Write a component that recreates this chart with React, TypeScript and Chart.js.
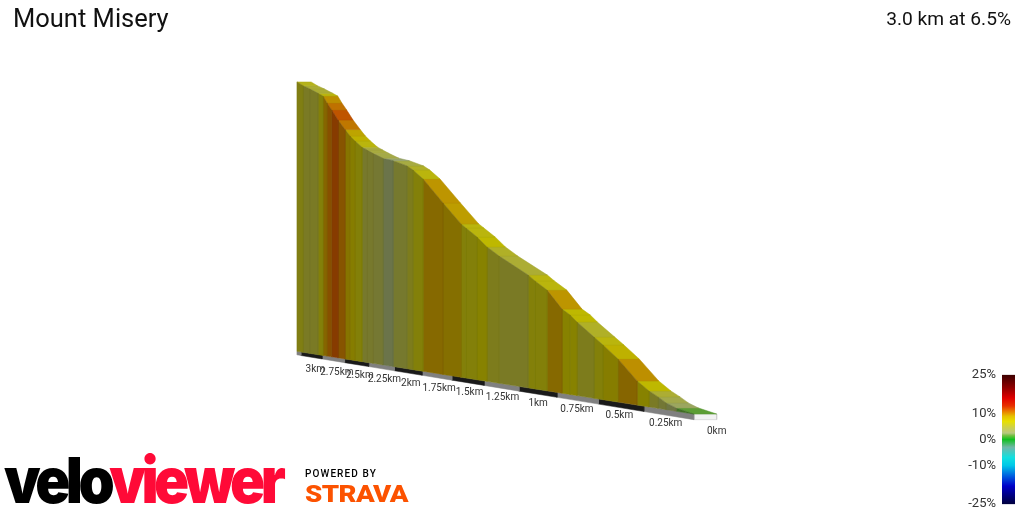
import React, { useEffect, useRef } from 'react';
import Chart from 'chart.js/auto';

// profile, far end first
const stationKm = [3.05, 2.976, 2.891, 2.797, 2.74, 2.694, 2.641, 2.572, 2.496, 2.442, 2.39, 2.317, 2.267, 2.207, 2.109, 2.013, 1.884, 1.83, 1.742, 1.573, 1.428, 1.389, 1.304, 1.229, 1.141, 0.939, 0.893, 0.814, 0.719, 0.669, 0.627, 0.526, 0.474, 0.39, 0.286, 0.223, 0.177, 0.136, 0.086, 0];
const stationElevation = [200.8, 196.9, 193.2, 188.7, 185.9, 180.3, 174.6, 166.7, 159.2, 154.1, 150.2, 145.2, 142.9, 140.1, 136, 133.6, 129.2, 126.2, 120, 104.3, 91.2, 88.7, 83.3, 77.5, 72.3, 62, 58.9, 54.2, 44.5, 41.7, 38.3, 31.3, 27.7, 21.5, 11.8, 7.7, 5.5, 3.2, 1.5, 0];
const segmentGrade = [6, 5, 5, 6.5, 9.5, 10.5, 11.5, 10.3, 8.5, 7.5, 6.5, 4.6, 4.6, 4.2, 2.5, 4.5, 5.5, 6.5, 9.3, 9, 6.5, 6.5, 7, 5.5, 5, 6.5, 6.5, 9.3, 7, 7, 5.5, 6.5, 7.5, 9.5, 7, 5, 4, 3, 1.5];
const tickKm = [3, 2.75, 2.5, 2.25, 2, 1.75, 1.5, 1.25, 1, 0.75, 0.5, 0.25, 0];
const tickLabels = ['3km', '2.75km', '2.5km', '2.25km', '2km', '1.75km', '1.5km', '1.25km', '1km', '0.75km', '0.5km', '0.25km', '0km'];
const legendTicks = [-25, -10, 0, 10, 25];

const rampGrade = [-25, -18, -14, -10, -7, -3, 0, 1.5, 2.5, 4.5, 7, 9, 11, 13, 16, 20, 25];
const rampColor = ['#00003c', '#0000c8', '#0060e0', '#00c8e8', '#10e0e0', '#70b8a8', '#10c020', '#70c040', '#b8c880', '#ccd050', '#e8e000', '#e6c000', '#ea7800', '#e83000', '#e00000', '#900000', '#3c0000'];

const hexRgb = (h: string) => [1, 3, 5].map(i => parseInt(h.slice(i, i + 2), 16));

const gradeColor = (grade: number, shade: number) => {
  let i = 0;
  while (i < rampGrade.length - 2 && grade > rampGrade[i + 1]) i++;
  const f = (grade - rampGrade[i]) / (rampGrade[i + 1] - rampGrade[i]);
  const a = hexRgb(rampColor[i]);
  const b = hexRgb(rampColor[i + 1]);
  const c = a.map((v, n) => Math.round((v + (b[n] - v) * f) * shade));
  return `rgb(${c[0]},${c[1]},${c[2]})`;
};

// perspective of the ribbon: km + elevation + depth (0 front, 1 back) -> page units
const project = (km: number, metres: number, depth = 0) => {
  const t = 3 - km;
  const w = 1 / (1 - 0.1253 * t);
  return {
    x: (44 * t + 301 + depth * 14.3) * w,
    y: (352 - 31.2 * t - metres * 1.35) * w,
  };
};

const polygon = (points: { x: number; y: number }[], color: string, edge = color) => ({
  data: [...points, points[0]],
  showLine: true,
  fill: 'shape',
  backgroundColor: color,
  borderColor: edge,
  borderWidth: 0.5,
  pointRadius: 0,
  tension: 0,
});

const BAND_DEPTH = -2.6;

const buildDatasets = () => {
  const sets: ReturnType<typeof polygon>[] = [];
  segmentGrade.forEach((grade, i) => {
    const k0 = stationKm[i];
    const k1 = stationKm[i + 1];
    const e0 = stationElevation[i];
    const e1 = stationElevation[i + 1];
    sets.push(polygon([project(k0, 0), project(k0, e0), project(k1, e1), project(k1, 0)], gradeColor(grade, 0.58), gradeColor(grade, 0.56)));
    sets.push(polygon([project(k0, e0), project(k0, e0, 1), project(k1, e1, 1), project(k1, e1)], gradeColor(grade, 0.82), gradeColor(grade, 0.78)));
  });
  const band = (a: number, b: number, color: string) =>
    polygon([project(a, 0), project(b, 0), project(b, BAND_DEPTH), project(a, BAND_DEPTH)], color);
  sets.push(band(stationKm[0], tickKm[0], '#808080'));
  tickKm.slice(0, -1).forEach((km, i) => {
    sets.push(band(km, tickKm[i + 1], i % 2 === 0 ? '#1a1a1a' : '#808080'));
  });
  sets.push(polygon([project(0, 0), project(0, 0, 1), project(0, BAND_DEPTH, 1), project(0, BAND_DEPTH)], '#f2f2f2', '#c4c4c4'));
  return sets;
};

const kmLabels = {
  id: 'kmLabels',
  afterDatasetsDraw(chart: Chart) {
    const { ctx, scales } = chart;
    ctx.save();
    ctx.font = '10px Roboto';
    ctx.fillStyle = '#333';
    ctx.textAlign = 'center';
    ctx.textBaseline = 'middle';
    tickKm.forEach((km, i) => {
      const p = project(km, 0, 1);
      const base = project(km, 0);
      ctx.fillText(tickLabels[i], scales.x.getPixelForValue(p.x), scales.y.getPixelForValue(base.y) + 17);
    });
    ctx.restore();
  },
};

const GradeLegend = () => {
  const ref = useRef<HTMLCanvasElement | null>(null);
  useEffect(() => {
    if (!ref.current) return;
    const chart = new Chart(ref.current, {
      type: 'bar',
      data: {
        labels: ['grade'],
        datasets: [{
          data: [[legendTicks[0], legendTicks[legendTicks.length - 1]]],
          barPercentage: 1,
          categoryPercentage: 1,
          backgroundColor: (c: any) => {
            const { chartArea, scales, ctx } = c.chart;
            if (!chartArea) return '#888';
            const top = scales.y.getPixelForValue(25);
            const bottom = scales.y.getPixelForValue(-25);
            const g = ctx.createLinearGradient(0, bottom, 0, top);
            rampGrade.forEach((v, i) => g.addColorStop((v + 25) / 50, rampColor[i]));
            return g;
          },
        }],
      } as any,
      options: {
        animation: false,
        responsive: false,
        events: [],
        layout: { autoPadding: false, padding: { top: 10, bottom: 12, right: 9, left: 0 } },
        plugins: { legend: { display: false }, tooltip: { enabled: false } },
        scales: {
          x: { display: false },
          y: {
            min: -25,
            max: 25,
            grid: { display: false, drawTicks: false },
            border: { display: false },
            afterBuildTicks: (s: any) => { s.ticks = legendTicks.map(value => ({ value })); },
            afterFit: (s: any) => { s.width = 52; },
            ticks: {
              autoSkip: false,
              padding: 6,
              color: '#333',
              font: { family: 'Roboto', size: 13 },
              callback: (v: any) => `${v}%`,
            },
          },
        },
      } as any,
    });
    return () => chart.destroy();
  }, []);
  return <canvas ref={ref} width={74} height={157} style={{ position: 'absolute', left: 950, top: 361, display: 'block' }} />;
};

export default function App() {
  const ref = useRef<HTMLCanvasElement | null>(null);

  useEffect(() => {
    if (!ref.current) return;
    const chart = new Chart(ref.current, {
      type: 'scatter',
      data: { datasets: buildDatasets() } as any,
      options: {
        animation: false,
        responsive: false,
        events: [],
        layout: { padding: 0 },
        plugins: { legend: { display: false }, tooltip: { enabled: false } },
        scales: {
          x: { type: 'linear', min: 0, max: 1024, display: false },
          y: { type: 'linear', min: 0, max: 512, reverse: true, display: false },
        },
      } as any,
      plugins: [kmLabels],
    });
    return () => chart.destroy();
  }, []);

  const text: React.CSSProperties = { position: 'absolute', whiteSpace: 'nowrap', fontFamily: 'Roboto', color: '#111', lineHeight: 1 };
  const logo: React.CSSProperties = {
    ...text,
    fontFamily: 'Inter',
    fontWeight: 900,
    fontSize: 58,
    letterSpacing: -4.5,
    left: 4,
    top: 452,
    transform: 'scaleY(1.1)',
    transformOrigin: '0 43px',
  };

  return (
    <div style={{ position: 'fixed', left: 0, top: 0, width: 1024, height: 512, overflow: 'hidden', background: '#fff' }}>
      <canvas ref={ref} width={1024} height={512} style={{ position: 'absolute', left: 0, top: 0, display: 'block' }} />
      <GradeLegend />
      <div style={{ ...text, left: 13, top: 6, fontSize: 25.5 }}>Mount Misery</div>
      <div style={{ ...text, right: 13, top: 9, fontSize: 19.2 }}>3.0 km at 6.5%</div>
      <div style={logo}>
        <span style={{ color: '#000' }}>velo</span>
        <span style={{ color: '#ff0a37' }}>viewer</span>
      </div>
      <div style={{ ...text, left: 305, top: 469, fontSize: 10, fontWeight: 500, letterSpacing: 1.1, color: '#000' }}>POWERED BY</div>
      <div style={{ ...text, left: 305, top: 483, fontSize: 23, fontWeight: 900, letterSpacing: -0.5, color: '#fc5200', transform: 'scaleX(1.2)', transformOrigin: '0 0' }}>STRAVA</div>
    </div>
  );
}
